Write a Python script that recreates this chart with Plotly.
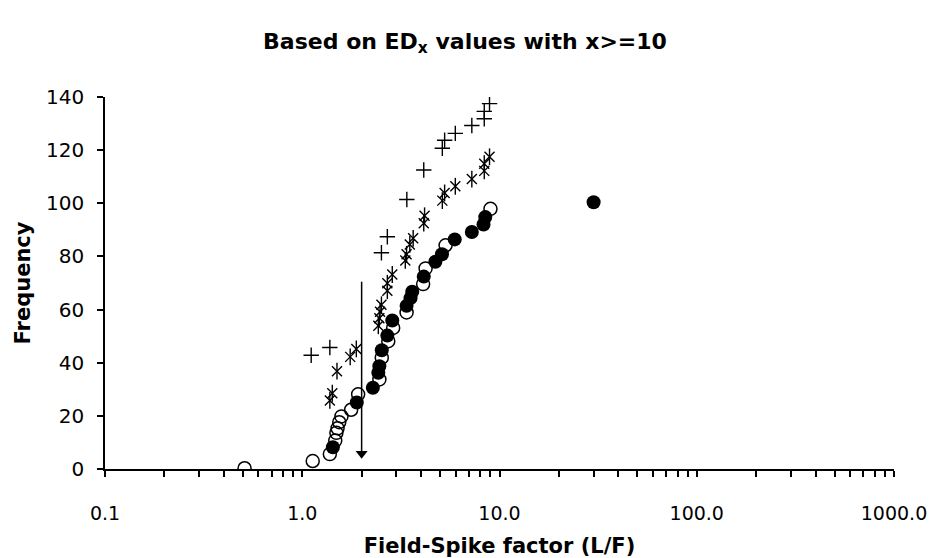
import plotly.graph_objects as go

# ---- data ----
open_x = [0.51, 1.13, 1.38, 1.47, 1.49, 1.51, 1.54, 1.58, 1.77, 1.92, 2.46, 2.53, 2.73, 2.89, 3.38, 4.10, 4.22, 5.33, 9.0]
open_y = [0.3, 3.0, 5.6, 10.7, 13.6, 15.3, 17.6, 19.8, 22.3, 28.1, 33.7, 41.9, 48.1, 53.1, 58.9, 69.6, 75.5, 84.2, 97.9]

filled_x = [1.43, 1.89, 2.28, 2.43, 2.46, 2.53, 2.70, 2.86, 3.38, 3.54, 3.61, 4.13, 4.73, 5.11, 5.93, 7.24, 8.30, 8.47, 30.0]
filled_y = [8.2, 25.0, 30.6, 36.2, 38.7, 44.7, 50.2, 55.9, 61.4, 64.3, 66.7, 72.4, 78.0, 80.8, 86.4, 89.2, 92.0, 94.8, 100.4]

plus_x = [1.11, 1.38, 2.52, 2.70, 3.39, 4.13, 5.13, 5.27, 5.97, 7.24, 8.37, 8.37, 8.9]
plus_y = [42.8, 45.7, 81.4, 87.4, 101.4, 112.5, 120.7, 123.7, 126.3, 129.3, 131.8, 134.6, 137.5]

star_x = [1.38, 1.42, 1.50, 1.75, 1.88, 2.43, 2.46, 2.48, 2.52, 2.70, 2.70, 2.86, 3.33, 3.38, 3.51, 3.65,
          4.13, 4.17, 5.13, 5.27, 5.97, 7.24, 8.37, 8.37, 8.9]
star_y = [25.8, 28.5, 36.8, 42.2, 45.2, 53.9, 56.7, 59.2, 61.8, 67.1, 69.9, 73.2, 78.5, 80.8, 84.5, 86.8,
          92.5, 95.3, 101.0, 103.9, 106.4, 109.1, 112.2, 114.9, 117.5]

# vertical arrow at L/F = 2 (shaft from top to head)
arrow_x = [2.0, 2.0]
arrow_y = [70.5, 5.8]
arrow_head_x = [2.0]
arrow_head_y = [5.8]

x_tick_vals = [0.1, 1, 10, 100, 1000]
x_tick_text = ["0.1", "1.0", "10.0", "100.0", "1000.0"]
y_tick_vals = [0, 20, 40, 60, 80, 100, 120, 140]

FONT = "DejaVu Sans, Liberation Sans, Arial, sans-serif"

fig = go.Figure()

fig.add_trace(go.Scatter(
    x=open_x, y=open_y, mode="markers", name="open",
    marker=dict(symbol="circle-open", size=13, color="black", line=dict(width=1.5, color="black")),
))
fig.add_trace(go.Scatter(
    x=filled_x, y=filled_y, mode="markers", name="filled",
    marker=dict(symbol="circle", size=14, color="black", line=dict(width=0)),
))
fig.add_trace(go.Scatter(
    x=star_x, y=star_y, mode="markers", name="asterisk",
    marker=dict(symbol="x-thin-open", size=10, color="black", line=dict(width=1.4, color="black")),
))
fig.add_trace(go.Scatter(
    x=star_x, y=star_y, mode="markers", name="asterisk-v", showlegend=False,
    marker=dict(symbol="line-ns-open", size=12, color="black", line=dict(width=1.4, color="black")),
))
fig.add_trace(go.Scatter(
    x=plus_x, y=plus_y, mode="markers", name="plus",
    marker=dict(symbol="cross-thin-open", size=11, color="black", line=dict(width=1.4, color="black")),
))
fig.add_trace(go.Scatter(
    x=arrow_x, y=arrow_y, mode="lines", name="arrow",
    line=dict(color="black", width=1.5), hoverinfo="skip",
))
fig.add_trace(go.Scatter(
    x=arrow_head_x, y=arrow_head_y, mode="markers", name="arrowhead",
    marker=dict(symbol="triangle-down", size=10.5, color="black", line=dict(width=0)), hoverinfo="skip",
))

minor_vals = [m * 10 ** e for e in range(-1, 3) for m in range(2, 10)]

fig.update_layout(
    width=930, height=558,
    paper_bgcolor="white", plot_bgcolor="white",
    margin=dict(l=105, r=36, t=97, b=89),
    showlegend=False,
    font=dict(family=FONT, color="black"),
    title=dict(
        text="<b>Based on ED<sub>x</sub> values with x>=10</b>",
        x=0.5, xref="container", xanchor="center",
        y=1 - 41 / 558, yref="container", yanchor="middle",
        font=dict(size=22, family=FONT, color="black"),
    ),
    xaxis=dict(
        type="log", range=[-1, 3], automargin=False,
        tickvals=x_tick_vals, ticktext=x_tick_text,
        ticks="outside", ticklen=6, tickwidth=1.5, tickcolor="black",
        minor=dict(tickvals=minor_vals, ticks="outside", ticklen=6, tickwidth=1.5, tickcolor="black"),
        showline=True, linecolor="black", linewidth=1.5,
        showgrid=False, zeroline=False,
        tickfont=dict(size=19, family=FONT, color="black"),
        ticklabelstandoff=20,
        title=dict(text="<b>Field-Spike factor (L/F)</b>", font=dict(size=21, family=FONT, color="black"), standoff=16),
    ),
    yaxis=dict(
        range=[0, 140], tickvals=y_tick_vals, automargin=False,
        ticks="outside", ticklen=6, tickwidth=1.5, tickcolor="black",
        showline=True, linecolor="black", linewidth=1.5,
        showgrid=False, zeroline=False,
        tickfont=dict(size=20, family=FONT, color="black"),
        ticklabelstandoff=9,
        title=dict(text="<b>Frequency</b>", font=dict(size=21, family=FONT, color="black"), standoff=10),
    ),
)

fig.write_html(
    "out.html",
    config={"displayModeBar": False},
    post_script="document.body.style.margin='0';document.body.style.padding='0';",
)
